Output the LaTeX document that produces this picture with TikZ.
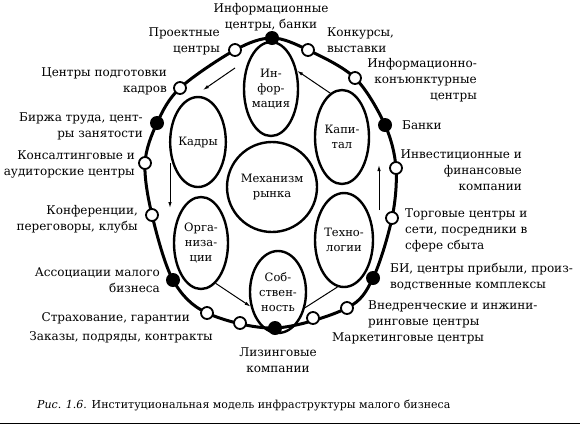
\documentclass[tikz,border=0pt]{standalone}
\usepackage{fontspec}
\setmainfont{DejaVu Serif}
\usetikzlibrary{arrows.meta, shapes.geometric}

\tikzset{
  celda/.style={ellipse, draw, line width=2.4pt, inner sep=0pt, align=center,
    font=\fontsize{11.5}{15}\selectfont},
  hueco/.style={circle, draw, fill=white, line width=1.8pt,
    minimum size=12pt, inner sep=0pt},
  punto/.style={circle, fill=black, minimum size=14pt, inner sep=0pt},
  etiq/.style={inner sep=0pt, font=\fontsize{12}{16}\selectfont},
  flujo/.style={-{Latex[length=6pt,width=3.5pt]}, line width=1pt},
}

\begin{document}
\begin{tikzpicture}[x=1pt, y=-1pt]
    \useasboundingbox (0,0) rectangle (580,424);

    % Puntos del anillo exterior
    \foreach \n/\x/\y in {a1/272/38, a2/308/50, a3/355/78, a4/385/125,
                          a5/396/168, a6/392/218, a7/373/278, a8/347/308,
                          a9/275/328, a10/207/313, a11/173/280, a12/152/215,
                          a13/145/163, a14/157/123, a15/180/88, a16/235/50}
        \coordinate (\n) at (\x,\y);

    % Anillo exterior
    \draw[line width=3pt] plot[smooth cycle, tension=0.55] coordinates
        {(a1) (a2) (a3) (a4) (a5) (a6) (a7) (a8)
         (a9) (a10) (a11) (a12) (a13) (a14) (a15) (a16)};

    % Elipses interiores
    \node[celda, minimum width=54pt, minimum height=94pt] (inform)  at (271,89)  {Ин-\\фор-\\мация};
    \node[celda, minimum width=54pt, minimum height=90pt] (kadry)   at (198,142) {Кадры};
    \node[celda, minimum width=54pt, minimum height=94pt] (kapital) at (342,137) {Капи-\\тал};
    \node[celda, minimum width=90pt, minimum height=90pt] (mercado) at (272,187) {Механизм\\рынка};
    \node[celda, minimum width=54pt, minimum height=92pt] (organ)   at (201,243) {Орга-\\низа-\\ции};
    \node[celda, minimum width=58pt, minimum height=94pt] (tecn)    at (344,240) {Техно-\\логии};
    \node[celda, minimum width=56pt, minimum height=82pt] (sobst)   at (278,292) {Соб-\\ствен-\\ность};

    % Circulos del anillo
    \foreach \n in {a1, a4, a7, a9, a11, a14}
        \node[punto] (c\n) at (\n) {};
    \foreach \n in {a2, a3, a5, a6, a8, a10, a12, a13, a15, a16}
        \node[hueco] (c\n) at (\n) {};
    \node[hueco] (czak)  at (240,323) {};
    \node[hueco] (cmark) at (313,318) {};

    % Flujos entre elipses
    \coordinate (f1) at (235,68);
    \coordinate (f2) at (203,90);
    \coordinate (f3) at (170,163);
    \coordinate (f4) at (170,208);
    \coordinate (f5) at (379,210);
    \coordinate (f6) at (379,165);
    \draw[flujo] (kapital.105) -- (inform.35);
    \draw[flujo] (f1) -- (f2);
    \draw[flujo] (f3) -- (f4);
    \draw[flujo] (organ.-70) -- (sobst.-152);
    \draw[line width=1pt] (tecn.-98) -- (sobst.-30);
    \draw[flujo] (f5) -- (f6);

    % Etiquetas de la izquierda
    \node[etiq, align=right, anchor=base east] (tproy) at (220,52)  {Проектные\\центры};
    \node[etiq, align=right, anchor=base east] (tpodg) at (167,92)  {Центры подготовки\\кадров};
    \node[etiq, align=right, anchor=base east] (tbir)  at (143,137) {Биржа труда, цент-\\ры занятости};
    \node[etiq, align=right, anchor=base east] (tkons) at (135,175) {Консалтинговые и\\аудиторские центры};
    \node[etiq, align=right, anchor=base east] (tkonf) at (138,230) {Конференции,\\переговоры, клубы};
    \node[etiq, align=right, anchor=base east] (tasoc) at (160,292) {Ассоциации малого\\бизнеса};
    \node[etiq, anchor=base east] (tstr) at (190,321) {Страхование, гарантии};
    \node[etiq, anchor=base east] (tzak) at (213,340) {Заказы, подряды, контракты};

    % Etiquetas de arriba y abajo
    \node[etiq, align=center, anchor=base] (tinf) at (271,28)  {Информационные\\центры, банки};
    \node[etiq, align=center, anchor=base] (tliz) at (278,372) {Лизинговые\\компании};

    % Etiquetas de la derecha
    \node[etiq, align=left,  anchor=base west] (tkonk) at (327,52)  {Конкурсы,\\выставки};
    \node[etiq, align=right, anchor=base east] (tik)   at (477,99)  {Информационно-\\конъюнктурные\\центры};
    \node[etiq, anchor=base west] (tbank) at (402,129) {Банки};
    \node[etiq, align=right, anchor=base east] (tinv)  at (522,190) {Инвестиционные и\\финансовые\\компании};
    \node[etiq, align=left,  anchor=base west] (ttorg) at (405,249) {Торговые центры и\\сети, посредники в\\сфере сбыта};
    \node[etiq, align=left,  anchor=base west] (tbi)   at (390,288) {БИ, центры прибыли, произ-\\водственные комплексы};
    \node[etiq, align=left,  anchor=base west] (tvn)   at (368,325) {Внедренческие и инжини-\\ринговые центры};
    \node[etiq, anchor=base west] (tmark) at (332,341) {Маркетинговые центры};

    % Pie de figura
    \node[etiq, font=\fontsize{11}{13}\selectfont, anchor=base west] (pie) at (37,408)
        {\textit{Рис. 1.6.} Институциональная модель инфраструктуры малого бизнеса};
    \draw[line width=0.8pt] (0,423) -- (580,423);
\end{tikzpicture}
\end{document}
